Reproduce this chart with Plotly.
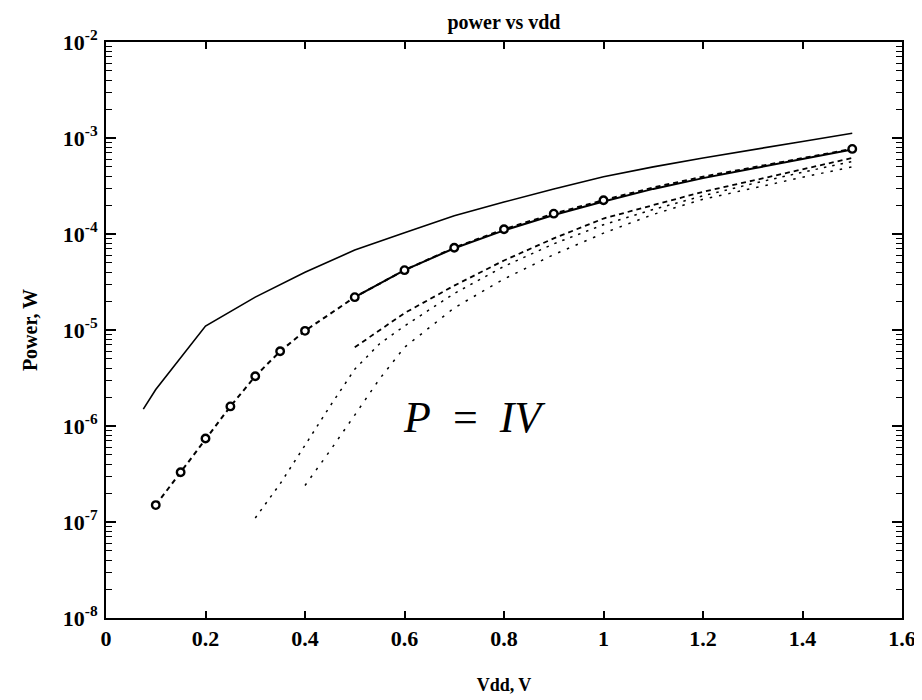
import plotly.graph_objects as go

# ---------------- data ----------------
vdd_top = [0.075, 0.1, 0.2, 0.3, 0.4, 0.5, 0.6, 0.7, 0.8, 0.9, 1.0, 1.1, 1.2, 1.3, 1.4, 1.5]
p_top = [1.5e-6, 2.4e-6, 1.1e-5, 2.2e-5, 4.0e-5, 6.8e-5, 1.03e-4, 1.55e-4, 2.15e-4,
         2.95e-4, 3.95e-4, 5.0e-4, 6.2e-4, 7.6e-4, 9.2e-4, 1.12e-3]

vdd_mark = [0.1, 0.15, 0.2, 0.25, 0.3, 0.35, 0.4, 0.5, 0.6, 0.7, 0.8, 0.9, 1.0,
            1.1, 1.2, 1.3, 1.4, 1.5]
p_mark = [1.5e-7, 3.3e-7, 7.4e-7, 1.6e-6, 3.3e-6, 6.0e-6, 9.8e-6, 2.2e-5, 4.2e-5,
          7.2e-5, 1.12e-4, 1.63e-4, 2.25e-4, 3.05e-4, 3.95e-4, 4.95e-4, 6.2e-4, 7.7e-4]

vdd_mark_solid = [0.5, 0.6, 0.7, 0.8, 0.9, 1.0, 1.1, 1.2, 1.3, 1.4, 1.5]
p_mark_solid = [2.2e-5, 4.2e-5, 7.1e-5, 1.09e-4, 1.58e-4, 2.18e-4, 2.95e-4, 3.82e-4,
                4.8e-4, 6.0e-4, 7.6e-4]

vdd_circles = [0.1, 0.15, 0.2, 0.25, 0.3, 0.35, 0.4, 0.5, 0.6, 0.7, 0.8, 0.9, 1.0, 1.5]
p_circles = [1.5e-7, 3.3e-7, 7.4e-7, 1.6e-6, 3.3e-6, 6.0e-6, 9.8e-6, 2.2e-5, 4.2e-5,
             7.2e-5, 1.12e-4, 1.63e-4, 2.25e-4, 7.7e-4]

vdd_d = [0.5, 0.6, 0.7, 0.8, 0.9, 1.0, 1.1, 1.2, 1.3, 1.4, 1.5]
p_d = [6.6e-6, 1.5e-5, 2.9e-5, 5.3e-5, 9.0e-5, 1.45e-4, 2.0e-4, 2.75e-4, 3.6e-4,
       4.7e-4, 6.2e-4]

vdd_e1 = [0.3, 0.35, 0.4, 0.45, 0.5, 0.55, 0.6, 0.7, 0.8, 0.9, 1.0, 1.1, 1.2, 1.3, 1.4, 1.5]
p_e1 = [1.1e-7, 2.5e-7, 6.3e-7, 1.6e-6, 3.9e-6, 7.2e-6, 1.1e-5, 2.4e-5, 4.6e-5,
        7.9e-5, 1.25e-4, 1.8e-4, 2.5e-4, 3.35e-4, 4.4e-4, 5.7e-4]

vdd_e2 = [0.4, 0.45, 0.5, 0.55, 0.6, 0.7, 0.8, 0.9, 1.0, 1.1, 1.2, 1.3, 1.4, 1.5]
p_e2 = [2.4e-7, 5.5e-7, 1.3e-6, 3.1e-6, 6.6e-6, 1.7e-5, 3.4e-5, 6.1e-5, 1.02e-4,
        1.6e-4, 2.3e-4, 3.0e-4, 3.9e-4, 5.0e-4]

x_tickvals = [0, 0.2, 0.4, 0.6, 0.8, 1.0, 1.2, 1.4, 1.6]
x_ticktext = ["0", "0.2", "0.4", "0.6", "0.8", "1", "1.2", "1.4", "1.6"]
y_tickvals = [1e-8, 1e-7, 1e-6, 1e-5, 1e-4, 1e-3, 1e-2]
y_ticktext = ["10<sup>-8</sup>", "10<sup>-7</sup>", "10<sup>-6</sup>", "10<sup>-5</sup>",
              "10<sup>-4</sup>", "10<sup>-3</sup>", "10<sup>-2</sup>"]

SERIF = "Liberation Serif, Times New Roman, serif"

fig = go.Figure()

# top solid curve drawn on the overlay log axis (identical range) so that axis carries the minor ticks
fig.add_trace(go.Scatter(x=vdd_top, y=p_top, mode="lines", yaxis="y2",
                         line=dict(color="black", width=1.6), showlegend=False))
fig.add_trace(go.Scatter(x=vdd_d, y=p_d, mode="lines",
                         line=dict(color="black", width=1.8, dash="5px,4px"), showlegend=False))
fig.add_trace(go.Scatter(x=vdd_e1, y=p_e1, mode="lines",
                         line=dict(color="black", width=1.5, dash="2.5px,6px"), showlegend=False))
fig.add_trace(go.Scatter(x=vdd_e2, y=p_e2, mode="lines",
                         line=dict(color="black", width=1.5, dash="2.5px,7px"), showlegend=False))
fig.add_trace(go.Scatter(x=vdd_mark_solid, y=p_mark_solid, mode="lines",
                         line=dict(color="black", width=2), showlegend=False))
fig.add_trace(go.Scatter(x=vdd_mark, y=p_mark, mode="lines",
                         line=dict(color="black", width=2, dash="5px,4px"), showlegend=False))
fig.add_trace(go.Scatter(x=vdd_circles, y=p_circles, mode="markers",
                         marker=dict(symbol="circle", size=7.5, color="white",
                                     line=dict(color="black", width=2.4)),
                         showlegend=False))

minor_vals = [m * 10.0 ** e for e in range(-8, -2) for m in range(2, 10)]

bold = dict(family=SERIF, color="black", weight="bold")

# page body has an 8px default margin, so the figure is 8px smaller than the window
fig.update_layout(
    template="none",
    width=914, height=692,
    margin=dict(l=98, r=20, t=34, b=82, pad=0),
    paper_bgcolor="white", plot_bgcolor="white",
    font=dict(family=SERIF, color="black"),
    title=dict(text="power vs vdd", x=0.5, xref="paper", xanchor="center",
               y=1 - 14 / 692, yref="container", yanchor="middle",
               font=dict(bold, size=20)),
    xaxis=dict(range=[0, 1.6], tickmode="array", tickvals=x_tickvals,
               ticktext=x_ticktext,
               ticks="inside", ticklen=7, tickwidth=1.5, tickcolor="black",
               showline=True, linecolor="black", linewidth=1.8, mirror="ticks",
               showgrid=False, zeroline=False,
               tickfont=dict(bold, size=22),
               title=dict(text="Vdd, V", standoff=28, font=dict(bold, size=18))),
    yaxis=dict(type="log", range=[-8, -2], tickmode="array", tickvals=y_tickvals,
               ticktext=y_ticktext, ticklabelstandoff=2,
               ticks="inside", ticklen=10, tickwidth=1.5, tickcolor="black",
               showline=True, linecolor="black", linewidth=1.8, mirror="ticks",
               showgrid=False, zeroline=False,
               tickfont=dict(bold, size=22),
               title=dict(text="Power, W", standoff=20, font=dict(bold, size=20))),
    yaxis2=dict(type="log", range=[-8, -2], overlaying="y", side="left", anchor="x",
                tickmode="array", tickvals=minor_vals,
                ticks="inside", ticklen=6, tickwidth=1.2, tickcolor="black",
                showline=False, mirror="ticks", showgrid=False, zeroline=False,
                showticklabels=False),
    annotations=[dict(x=0.74, y=-5.91, xref="x", yref="y",
                      text="<i>P</i>\u2002=\u2002<i>IV</i>", showarrow=False,
                      font=dict(family=SERIF, size=44, color="black"))],
)

fig.write_html("out.html")
